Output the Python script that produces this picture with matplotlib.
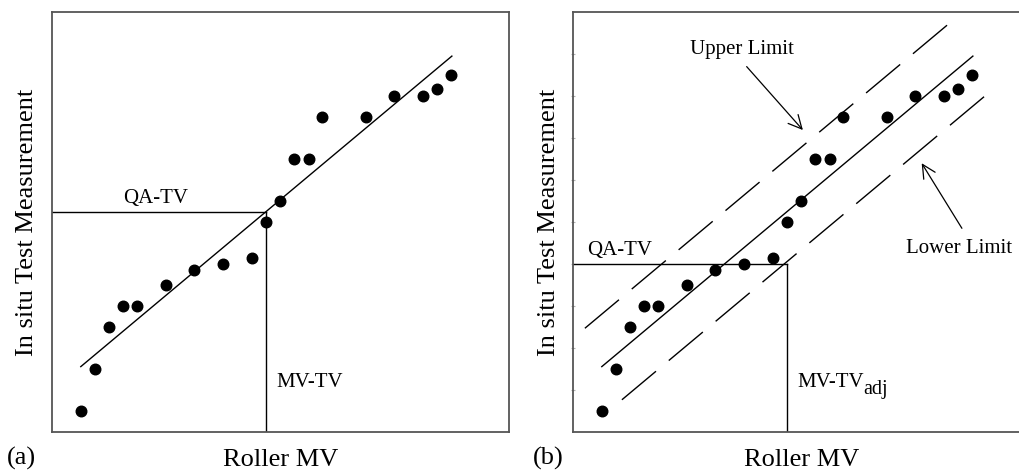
import numpy as np
import matplotlib
matplotlib.use("Agg")
import matplotlib.pyplot as plt

plt.rcParams['font.family'] = ['Liberation Serif', 'DejaVu Serif']

# roller MV vs in situ test measurement (arbitrary units, 0-10)
roller_mv = [0.63, 0.94, 1.25, 1.56, 1.87, 2.49, 3.11, 3.75, 4.38, 4.68,
             5.00, 5.30, 5.62, 5.91, 6.86, 7.48, 8.11, 8.42, 8.74]
insitu = [0.50, 1.51, 2.50, 3.01, 3.01, 3.50, 3.85, 4.01, 4.15, 4.99,
          5.50, 6.51, 6.51, 7.51, 7.51, 8.01, 8.01, 8.16, 8.51]

# regression line
fit_a, fit_b = 0.983, 0.9105
fit_x = [0.63, 8.75]

# target values
qa_tv = 5.25
qa_tv_adj = 4.01
mv_tv = 4.68

# confidence limits about the regression line
upper_off, lower_off = 1.25, -1.19
upper_x = [0.26, 8.32]
lower_x = [1.07, 9.12]

W, H = 1020, 472
fig = plt.figure(figsize=(W / 100, H / 100), dpi=100)
ax1 = fig.add_axes([52 / W, 40 / H, 457 / W, 420 / H])
ax2 = fig.add_axes([573 / W, 40 / H, 457 / W, 420 / H])

LBL = 19
SMALL = 15

def fit(x):
    return fit_a + fit_b * np.asarray(x)

for ax in (ax1, ax2):
    ax.set_xlim(0, 10)
    ax.set_ylim(0, 10)
    ax.set_xticks([])
    ax.set_yticks([])
    for s in ax.spines.values():
        s.set_color('#555555')
        s.set_linewidth(1.3)
    ax.plot(roller_mv, insitu, 'o', color='black', ms=7.6, mec='black', zorder=3)
    ax.plot(fit_x, fit(fit_x), color='black', lw=1.0)
    ax.set_xlabel('Roller MV', fontsize=LBL, labelpad=12)

ax1.set_ylabel('In situ Test Measurement', fontsize=LBL, labelpad=10)
ax2.set_ylabel('In situ Test Measurement', fontsize=LBL, labelpad=4)

# faint ticks on the right panel
ax2.set_yticks(np.arange(1, 10))
ax2.set_yticklabels([])
ax2.tick_params(axis='y', direction='inout', length=3, width=0.8, color='#b0b0b0')

# (a) single QA target
ax1.plot([0, mv_tv], [qa_tv, qa_tv], color='black', lw=1.0)
ax1.plot([mv_tv, mv_tv], [0, qa_tv], color='black', lw=1.0)
ax1.text(2.26, qa_tv + 0.08, 'QA-TV', fontsize=SMALL, ha='center', va='bottom')
ax1.text(4.92, 1.17, 'MV-TV', fontsize=SMALL, ha='left', va='center')

# (b) adjusted target with limits
ax2.plot([0, mv_tv], [qa_tv_adj, qa_tv_adj], color='black', lw=1.0)
ax2.plot([mv_tv, mv_tv], [0, qa_tv_adj], color='black', lw=1.0)
ax2.plot(upper_x, fit(upper_x) + upper_off, color='black', lw=1.0, dashes=(32, 12))
ax2.plot(lower_x, fit(lower_x) + lower_off, color='black', lw=1.0, dashes=(32, 12))
ax2.text(1.03, qa_tv_adj + 0.08, 'QA-TV', fontsize=SMALL, ha='center', va='bottom')
mv = ax2.text(4.90, 1.17, 'MV-TV', fontsize=SMALL, ha='left', va='center')
ax2.annotate('adj', xy=(1.0, 0.0), xycoords=mv, xytext=(-0.5, -1),
             textcoords='offset points', fontsize=14.5, ha='left', va='baseline')

ax2.text(3.70, 9.10, 'Upper Limit', fontsize=SMALL, ha='center', va='center')
ax2.text(8.44, 4.38, 'Lower Limit', fontsize=SMALL, ha='center', va='center')
ax2.annotate('', xy=(5.03, 7.19), xytext=(3.80, 8.70),
             arrowprops=dict(arrowstyle='->', color='black', lw=0.9,
                             mutation_scale=24, shrinkA=0, shrinkB=0))
ax2.annotate('', xy=(7.63, 6.40), xytext=(8.51, 4.85),
             arrowprops=dict(arrowstyle='->', color='black', lw=0.9,
                             mutation_scale=24, shrinkA=0, shrinkB=0))

fig.text(7 / W, 1 - 458 / H, '(a)', fontsize=LBL, ha='left', va='center')
fig.text(533 / W, 1 - 458 / H, '(b)', fontsize=LBL, ha='left', va='center')

fig.savefig('out.png', dpi=100)
